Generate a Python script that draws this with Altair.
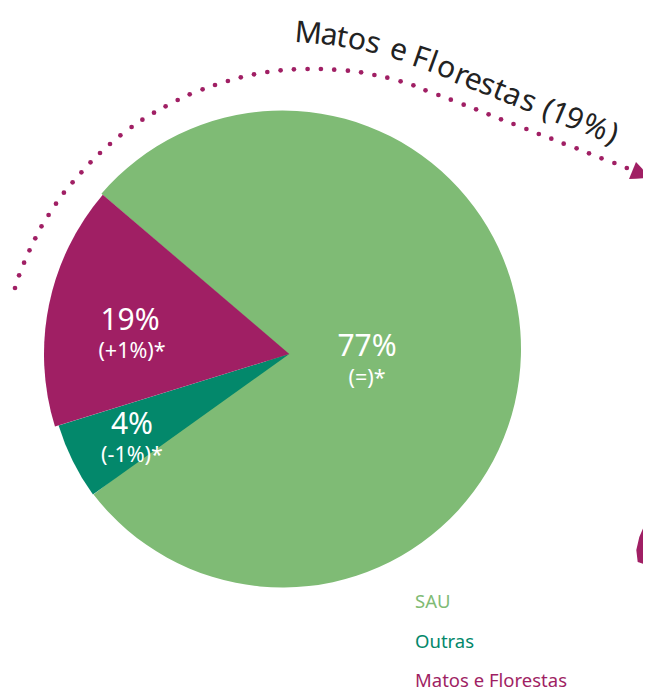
import altair as alt
import pandas as pd

GREEN = "#7FBB75"
TEAL = "#03886B"
PURPLE = "#A01F64"
FONT = "Noto Sans"

# Main sector (degrees clockwise from 12 o'clock, continuing past a full turn)
disc_x = [282.5]
disc_y = [349]
disc_start = [310.6]
disc_end = [592.4]

# Offset wedges (degrees clockwise from 12 o'clock)
wedge_names = ["Outras", "Matos e Florestas"]
wedge_x = [289.3, 289.3]
wedge_y = [354, 354]
wedge_start = [234.4, 252.8]
wedge_end = [252.8, 310.5]
wedge_radius = [241.5, 245.3]
wedge_colors = [TEAL, PURPLE]

# Dotted arrow
dots_x = [15, 19.1, 24.1, 29.5, 35.3, 41.5, 48.6, 56, 63.9, 72.6, 81.4, 90.5, 100, 110, 120.4,
          131.6, 142.4, 154, 165.6, 177.7, 189.7, 202.6, 215, 227.9, 240.8, 254, 267.3, 280.6,
          293.9, 307.6, 320.9, 334.2, 347.9, 361.1, 374.4, 387.3, 400.6, 413.4, 425.5, 438.4,
          450.8, 463.7, 476.1, 488.6, 501, 513.5, 526.4, 538.8, 551.3, 563.7, 576.6, 589, 601.5,
          614.4, 626.8]
dots_y = [288, 275.3, 262.7, 250.3, 238.3, 226.3, 215, 203.7, 192.7, 182.3, 172.3, 162.3, 153,
          144, 135.3, 127, 119.7, 112.7, 106.3, 100, 94.3, 89.3, 85, 81, 77.3, 74.3, 72, 70.3,
          69.3, 69, 69, 69.7, 70.7, 72.3, 75, 77.7, 81.3, 85.3, 90.3, 95, 99.7, 104.7, 109.3,
          114.3, 119.3, 124, 129, 134, 138.7, 143.7, 148.3, 153.3, 158.3, 163, 168]

# Arrow head
head_x = [629, 636, 651]
head_top = [179, 162, 178]
head_bottom = [179, 178.7, 178]

# Map fragment at right edge
map_x = [636.3, 637.7, 639.3, 643.7, 646, 647, 648, 651]
map_top = [550, 544, 537, 527, 520, 503, 493, 490]
map_bottom = [550, 562, 562.5, 564, 564.5, 565, 565, 565]

# Curved title
curve_chars = list("Matos e Florestas (19%)".replace(" ", ""))
curve_x = [307.5, 328, 340.5, 355, 371, 396, 417.7, 429.3, 443.3, 458, 470, 484, 496, 509, 525,
           544.5, 556, 570.5, 591.5, 609]
curve_y = [43, 44.7, 46.7, 49, 52.3, 59.3, 67.3, 71.7, 76.7, 84, 88.7, 94, 98.7, 104, 110.3, 118,
           122.7, 128, 136, 143]
curve_angle = [5, 8, 10, 13, 15, 17, 19, 20, 21, 22, 22, 22, 22, 22, 22, 23, 23, 23, 23, 23]

# Percent labels
big_text = ["19%", "4%", "77%"]
big_x = [130, 132, 367]
big_y = [330, 434, 356]
small_text = ["(+1%)*", "(-1%)*", "(=)*"]
small_x = [132, 132, 367]
small_y = [358, 462, 385]

# Legend
legend_text = ["SAU", "Outras", "Matos e Florestas"]
legend_x = [415, 415, 415]
legend_y = [608, 648, 687]
legend_colors = [GREEN, TEAL, PURPLE]

W, H = 635, 683
sx = alt.Scale(domain=[8, 643], nice=False, zero=False)
sy = alt.Scale(domain=[691, 8], nice=False, zero=False)
X = lambda f: alt.X(f, type="quantitative", scale=sx, axis=None)
Y = lambda f: alt.Y(f, type="quantitative", scale=sy, axis=None)
TH = alt.Scale(domain=[0, 360], range=[0, 6.283185307])

disc = alt.Chart(pd.DataFrame({"x": disc_x, "y": disc_y, "s": disc_start, "e": disc_end})).mark_arc(
    radius=238.5, color=GREEN
).encode(x=X("x"), y=Y("y"),
         theta=alt.Theta("s:Q", scale=TH, stack=None), theta2="e:Q")

wedges = alt.Chart(pd.DataFrame({"name": wedge_names, "x": wedge_x, "y": wedge_y, "s": wedge_start,
                                 "e": wedge_end, "c": wedge_colors, "r": wedge_radius})).mark_arc().encode(
    x=X("x"), y=Y("y"),
    theta=alt.Theta("s:Q", scale=TH, stack=None), theta2="e:Q",
    radius=alt.Radius("r:Q", scale=None),
    color=alt.Color("c:N", scale=None),
)

dots = alt.Chart(pd.DataFrame({"x": dots_x, "y": dots_y})).mark_circle(size=22, color=PURPLE, opacity=1).encode(
    x=X("x"), y=Y("y"))

head = alt.Chart(pd.DataFrame({"x": head_x, "y": head_top, "y2": head_bottom})).mark_area(color=PURPLE).encode(
    x=X("x"), y=Y("y"), y2="y2:Q")

mapshape = alt.Chart(pd.DataFrame({"x": map_x, "y": map_top, "y2": map_bottom})).mark_area(color=PURPLE).encode(
    x=X("x"), y=Y("y"), y2="y2:Q")

curve = alt.Chart(pd.DataFrame({"t": curve_chars, "x": curve_x, "y": curve_y, "a": curve_angle})).mark_text(
    font=FONT, fontSize=30, color="#222222", align="center", baseline="alphabetic"
).encode(x=X("x"), y=Y("y"), text="t:N", angle=alt.Angle("a:Q", scale=None))

big = alt.Chart(pd.DataFrame({"t": big_text, "x": big_x, "y": big_y})).mark_text(
    font=FONT, fontSize=30, color="white", align="center", baseline="alphabetic"
).encode(x=X("x"), y=Y("y"), text="t:N")

small = alt.Chart(pd.DataFrame({"t": small_text, "x": small_x, "y": small_y})).mark_text(
    font=FONT, fontSize=21.5, color="white", align="center", baseline="alphabetic"
).encode(x=X("x"), y=Y("y"), text="t:N")

legend = alt.Chart(pd.DataFrame({"t": legend_text, "x": legend_x, "y": legend_y, "c": legend_colors})).mark_text(
    font=FONT, fontSize=18.5, align="left", baseline="alphabetic"
).encode(x=X("x"), y=Y("y"), text="t:N", color=alt.Color("c:N", scale=None))

chart = alt.layer(disc, wedges, dots, head, mapshape, curve, big, small, legend).properties(
    width=W, height=H, padding=0, autosize=alt.AutoSizeParams(type="none"), background="white"
).configure_view(stroke=None)

chart.save("out.html", embed_options={"renderer": "svg", "actions": False})
